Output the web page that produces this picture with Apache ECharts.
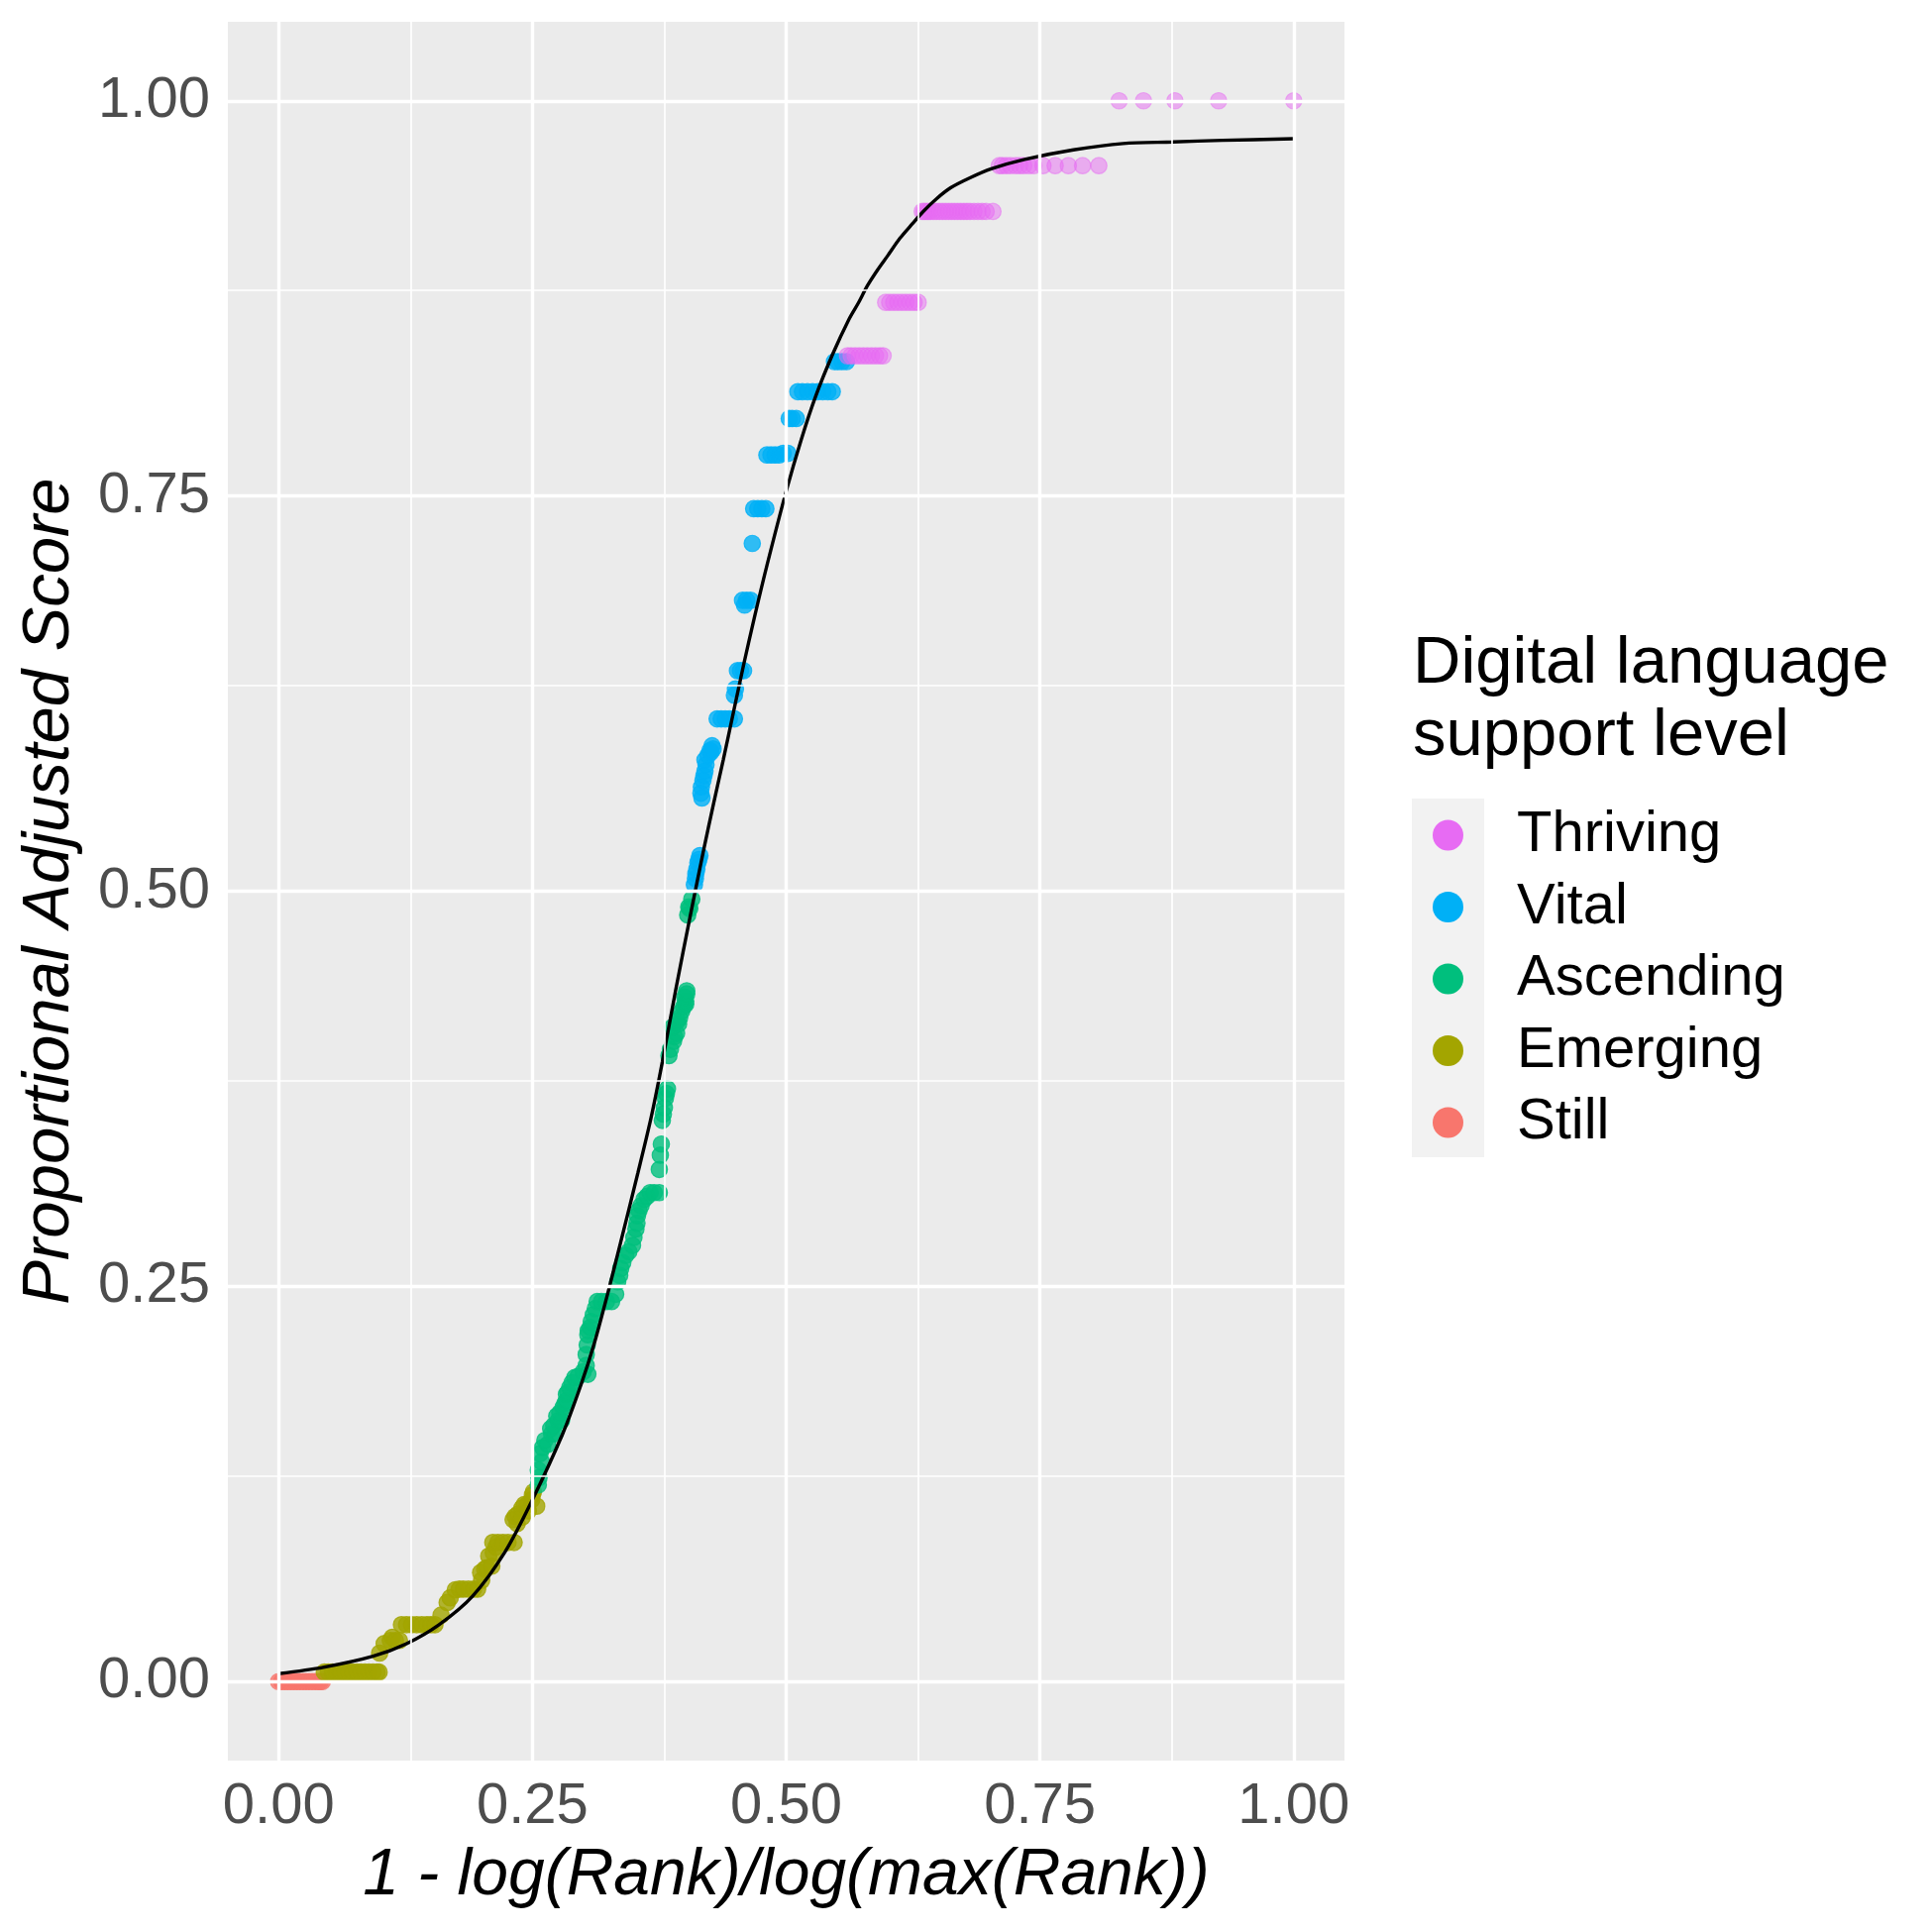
<!DOCTYPE html>
<html>
<head>
<meta charset="utf-8">
<script src="https://cdn.jsdelivr.net/npm/echarts@6/dist/echarts.min.js"></script>
<style>
html,body{margin:0;padding:0;background:#fff;}
#chart{width:1950px;height:1950px;}
</style>
</head>
<body>
<div id="chart"></div>
<script>
// ---------- data ----------
var categories = ['Thriving', 'Vital', 'Ascending', 'Emerging', 'Still'];
var catColors = ['#E76BF3', '#00B0F6', '#00BF7D', '#A3A500', '#F8766D'];

var xTicks = [0, 0.25, 0.5, 0.75, 1];
var yTicks = [0, 0.25, 0.5, 0.75, 1];
var xMinor = [0.125, 0.375, 0.625, 0.875];
var yMinor = [0.125, 0.375, 0.625, 0.875];

var still = [[0,0],[0.003,0],[0.006,0],[0.009,0],[0.012,0],[0.015,0],[0.018,0],[0.021,0],[0.024,0],[0.027,0],[0.030,0],[0.033,0],[0.036,0],[0.039,0],[0.041,0],[0.043,0]];

var emerging = [
[0.045,0.006],[0.049,0.006],[0.053,0.006],[0.057,0.006],[0.061,0.006],[0.065,0.006],[0.069,0.006],[0.073,0.006],[0.077,0.006],[0.081,0.006],[0.085,0.006],[0.089,0.006],[0.093,0.006],[0.097,0.006],[0.099,0.006],
[0.0995,0.018],[0.104,0.024],[0.110,0.026],[0.112,0.028],[0.115,0.026],[0.119,0.026],
[0.121,0.036],[0.126,0.036],[0.131,0.036],[0.136,0.036],[0.141,0.036],[0.146,0.036],[0.150,0.036],[0.154,0.036],
[0.160,0.042],[0.166,0.050],[0.169,0.053],[0.174,0.058],[0.178,0.0585],[0.182,0.0585],[0.187,0.0585],[0.192,0.0585],[0.196,0.0585],
[0.199,0.069],[0.200,0.064],[0.203,0.0711],[0.205,0.072],[0.207,0.0794],[0.210,0.073],[0.2115,0.0815],[0.214,0.085],[0.211,0.088],[0.216,0.088],[0.221,0.088],[0.226,0.088],[0.232,0.088],
[0.231,0.1024],[0.233,0.1045],[0.235,0.100],[0.236,0.106],[0.2396,0.1097],[0.240,0.104],[0.242,0.112],[0.245,0.112],[0.246,0.108],[0.2493,0.115],[0.250,0.118],[0.251,0.120],[0.2542,0.111]
];

var ascending = [
[0.2558,0.1244],[0.2565,0.129],[0.2558,0.1338],[0.259,0.139],[0.2575,0.1442],[0.260,0.148],[0.265,0.150],[0.2623,0.1526],[0.2689,0.1567],[0.2721,0.1567],[0.268,0.160],[0.271,0.162],[0.2754,0.1651],[0.2787,0.1651],[0.274,0.168],[0.277,0.170],[0.2802,0.1735],[0.282,0.176],[0.2835,0.1777],[0.2835,0.1818],[0.285,0.183],[0.2868,0.186],[0.289,0.189],[0.2917,0.1923],[0.295,0.193],[0.300,0.196],[0.3046,0.1944],[0.303,0.200],[0.303,0.2069],[0.304,0.213],[0.3046,0.2194],[0.305,0.222],[0.307,0.224],[0.308,0.2278],[0.310,0.232],[0.312,0.236],
[0.3138,0.2404],[0.318,0.2404],[0.323,0.2404],[0.328,0.2404],[0.332,0.245],
[0.334,0.2529],[0.336,0.257],[0.337,0.2613],[0.339,0.265],[0.342,0.2696],[0.345,0.272],[0.3486,0.2759],[0.350,0.281],[0.352,0.2863],[0.353,0.290],[0.3535,0.2947],[0.355,0.298],[0.357,0.301],[0.360,0.305],[0.363,0.307],
[0.366,0.3093],[0.370,0.3093],[0.375,0.3093],
[0.375,0.324],[0.376,0.333],[0.377,0.340],[0.378,0.355],[0.379,0.359],[0.380,0.363],[0.381,0.369],[0.382,0.372],[0.383,0.375],
[0.3845,0.396],[0.386,0.400],[0.389,0.405],[0.390,0.408],[0.392,0.410],[0.388,0.414],[0.393,0.418],[0.394,0.416],[0.395,0.420],[0.397,0.424],[0.399,0.427],[0.401,0.4285],[0.401,0.4305],[0.400,0.433],[0.402,0.435],[0.402,0.437],
[0.403,0.485],[0.404,0.490],[0.405,0.489],[0.407,0.495]
];

var vital = [
[0.4096,0.504],[0.4106,0.508],[0.411,0.511],[0.412,0.514],[0.413,0.518],[0.414,0.520],[0.415,0.5225],
[0.416,0.562],[0.417,0.559],[0.4165,0.566],[0.418,0.570],[0.419,0.573],[0.420,0.576],
[0.420,0.583],[0.421,0.580],[0.423,0.586],[0.425,0.589],[0.426,0.588],[0.427,0.592],[0.428,0.590],
[0.432,0.609],[0.436,0.609],[0.440,0.609],[0.444,0.609],[0.449,0.609],
[0.449,0.624],[0.450,0.628],[0.452,0.6395],[0.455,0.6395],[0.458,0.6395],
[0.457,0.684],[0.461,0.684],[0.465,0.684],[0.459,0.681],
[0.4666,0.720],
[0.468,0.742],[0.472,0.742],[0.476,0.742],[0.480,0.742],
[0.481,0.776],[0.485,0.776],[0.489,0.776],[0.493,0.776],[0.497,0.777],[0.5017,0.777],
[0.503,0.799],[0.506,0.799],[0.510,0.799],
[0.5115,0.816],[0.516,0.816],[0.521,0.816],[0.526,0.816],[0.531,0.816],[0.536,0.816],[0.541,0.816],[0.5454,0.816],
[0.5476,0.835],[0.551,0.835],[0.555,0.835],[0.5594,0.835]
];

var thriving = [
[0.5604,0.8387],[0.564,0.8387],[0.568,0.8387],[0.572,0.8387],[0.576,0.8387],[0.580,0.8387],[0.584,0.8387],[0.588,0.8387],[0.592,0.8387],[0.5955,0.8387],
[0.598,0.8725],[0.602,0.8725],[0.606,0.8725],[0.610,0.8725],[0.614,0.8725],[0.618,0.8725],[0.622,0.8725],[0.626,0.8725],[0.630,0.8725],
[0.634,0.930],[0.636,0.930],[0.638,0.930],[0.640,0.930],[0.642,0.930],[0.645,0.930],[0.648,0.930],[0.651,0.930],[0.654,0.930],[0.657,0.930],[0.660,0.930],[0.663,0.930],[0.666,0.930],[0.669,0.930],[0.672,0.930],[0.675,0.930],[0.678,0.930],[0.681,0.930],[0.685,0.930],[0.689,0.930],[0.693,0.930],[0.697,0.930],[0.7037,0.930],
[0.710,0.959],[0.713,0.959],[0.717,0.959],[0.721,0.959],[0.726,0.959],[0.730,0.959],[0.734,0.959],[0.739,0.959],[0.744,0.959],[0.753,0.959],[0.765,0.959],[0.778,0.959],[0.792,0.959],[0.808,0.959],
[0.828,1],[0.852,1],[0.883,1],[0.926,1],[1,1]
];

var fitCurve = [
[0,0.005],[0.044,0.009],[0.093,0.016],[0.126,0.024],[0.158,0.036],[0.191,0.054],[0.223,0.082],[0.25,0.115],[0.28,0.157],[0.298,0.188],[0.311,0.214],[0.324,0.245],[0.337,0.278],[0.354,0.322],[0.367,0.357],[0.378,0.392],[0.391,0.437],[0.406,0.486],[0.419,0.527],[0.428,0.554],[0.438,0.583],[0.448,0.613],[0.458,0.643],[0.469,0.674],[0.481,0.706],[0.500,0.753],[0.515,0.786],[0.529,0.813],[0.546,0.840],[0.562,0.862],[0.571,0.872],[0.580,0.883],[0.590,0.893],[0.600,0.902],[0.612,0.913],[0.624,0.922],[0.635,0.930],[0.648,0.938],[0.662,0.945],[0.680,0.951],[0.702,0.957],[0.735,0.963],[0.783,0.969],[0.832,0.973],[0.881,0.974],[0.93,0.975],[1.0,0.976]
];

var seriesData = {Thriving: thriving, Vital: vital, Ascending: ascending, Emerging: emerging, Still: still};
var seriesAlpha = {Thriving: 0.5, Vital: 0.8, Ascending: 0.8, Emerging: 0.8, Still: 0.8};

// ---------- helpers ----------
function rgba(hex, a) {
  var r = parseInt(hex.slice(1,3),16), g = parseInt(hex.slice(3,5),16), b = parseInt(hex.slice(5,7),16);
  return 'rgba(' + r + ',' + g + ',' + b + ',' + a + ')';
}
var FONT = "'Liberation Sans', Arial, sans-serif";

var gridLines = [];
xTicks.forEach(function(v){ gridLines.push({xAxis: v, lineStyle: {width: 3.4}}); });
xMinor.forEach(function(v){ gridLines.push({xAxis: v, lineStyle: {width: 1.7}}); });
yTicks.forEach(function(v){ gridLines.push({yAxis: v, lineStyle: {width: 3.4}}); });
yMinor.forEach(function(v){ gridLines.push({yAxis: v, lineStyle: {width: 1.7}}); });

var series = [{
  name: '__grid', type: 'scatter', data: [], z: 1, silent: true,
  markLine: {
    silent: true, symbol: ['none','none'], animation: false,
    label: {show: false},
    lineStyle: {color: '#FFFFFF', type: 'solid'},
    data: gridLines
  }
}];
// draw order like ggplot: Still first, Thriving last
['Still','Emerging','Ascending','Vital','Thriving'].forEach(function(name){
  var col = catColors[categories.indexOf(name)];
  var a = seriesAlpha[name];
  series.push({
    name: name, type: 'scatter', z: 2,
    data: seriesData[name],
    symbol: 'circle', symbolSize: 16.5,
    itemStyle: {color: rgba(col, a), borderColor: rgba(col, a), borderWidth: 1.2, opacity: 1},
    emphasis: {disabled: true}
  });
});
series.push({
  name: '__fit', type: 'line', z: 3, data: fitCurve, smooth: 0.3,
  showSymbol: false, symbol: 'none',
  lineStyle: {color: '#000000', width: 3.4},
  silent: true
});

var option = {
  animation: false,
  backgroundColor: '#FFFFFF',
  textStyle: {fontFamily: FONT},
  grid: {left: 230, top: 22, width: 1127, height: 1755, show: true, backgroundColor: '#EBEBEB', borderWidth: 0},
  xAxis: {
    type: 'value', min: -0.05, max: 1.05,
    name: '1 - log(Rank)/log(max(Rank))', nameLocation: 'middle', nameGap: 84,
    nameTextStyle: {fontSize: 66, fontStyle: 'italic', color: '#000000', fontFamily: FONT},
    axisLine: {show: false},
    axisTick: {show: true, customValues: xTicks, length: 11, lineStyle: {color: '#333333', width: 3}},
    axisLabel: {show: true, customValues: xTicks, fontSize: 58, color: '#4D4D4D', margin: 18, fontFamily: FONT,
      formatter: function(v){ return Number(v).toFixed(2); }},
    splitLine: {show: false}
  },
  yAxis: {
    type: 'value', min: -0.05, max: 1.05,
    name: 'Proportional Adjusted Score', nameLocation: 'middle', nameGap: 146,
    nameTextStyle: {fontSize: 67, fontStyle: 'italic', color: '#000000', fontFamily: FONT},
    axisLine: {show: false},
    axisTick: {show: true, customValues: yTicks, length: 11, lineStyle: {color: '#333333', width: 3}},
    axisLabel: {show: true, customValues: yTicks, fontSize: 58, color: '#4D4D4D', margin: 18, fontFamily: FONT,
      formatter: function(v){ return Number(v).toFixed(2); }},
    splitLine: {show: false}
  },
  title: {
    text: 'Digital language\nsupport level',
    left: 1421, top: 629,
    textStyle: {fontSize: 67, fontWeight: 'normal', color: '#000000', lineHeight: 73, fontFamily: FONT}
  },
  legend: {
    orient: 'vertical', left: 1441, top: 809,
    itemWidth: 31, itemHeight: 31, itemGap: 14.5,
    selectedMode: false,
    icon: 'circle',
    textStyle: {fontSize: 58, color: '#000000', fontFamily: FONT, lineHeight: 58, padding: [0,0,0,49]},
    data: categories.map(function(c, i){
      return {name: c, icon: 'circle', itemStyle: {color: catColors[i], borderWidth: 0, opacity: 1}};
    })
  },
  graphic: [{
    type: 'rect', z: -1, silent: true,
    shape: {x: 1425, y: 806, width: 73, height: 362},
    style: {fill: '#F2F2F2'}
  }],
  series: series
};

var chart = echarts.init(document.getElementById('chart'), null, {renderer: 'canvas'});
chart.setOption(option);
</script>
</body>
</html>
